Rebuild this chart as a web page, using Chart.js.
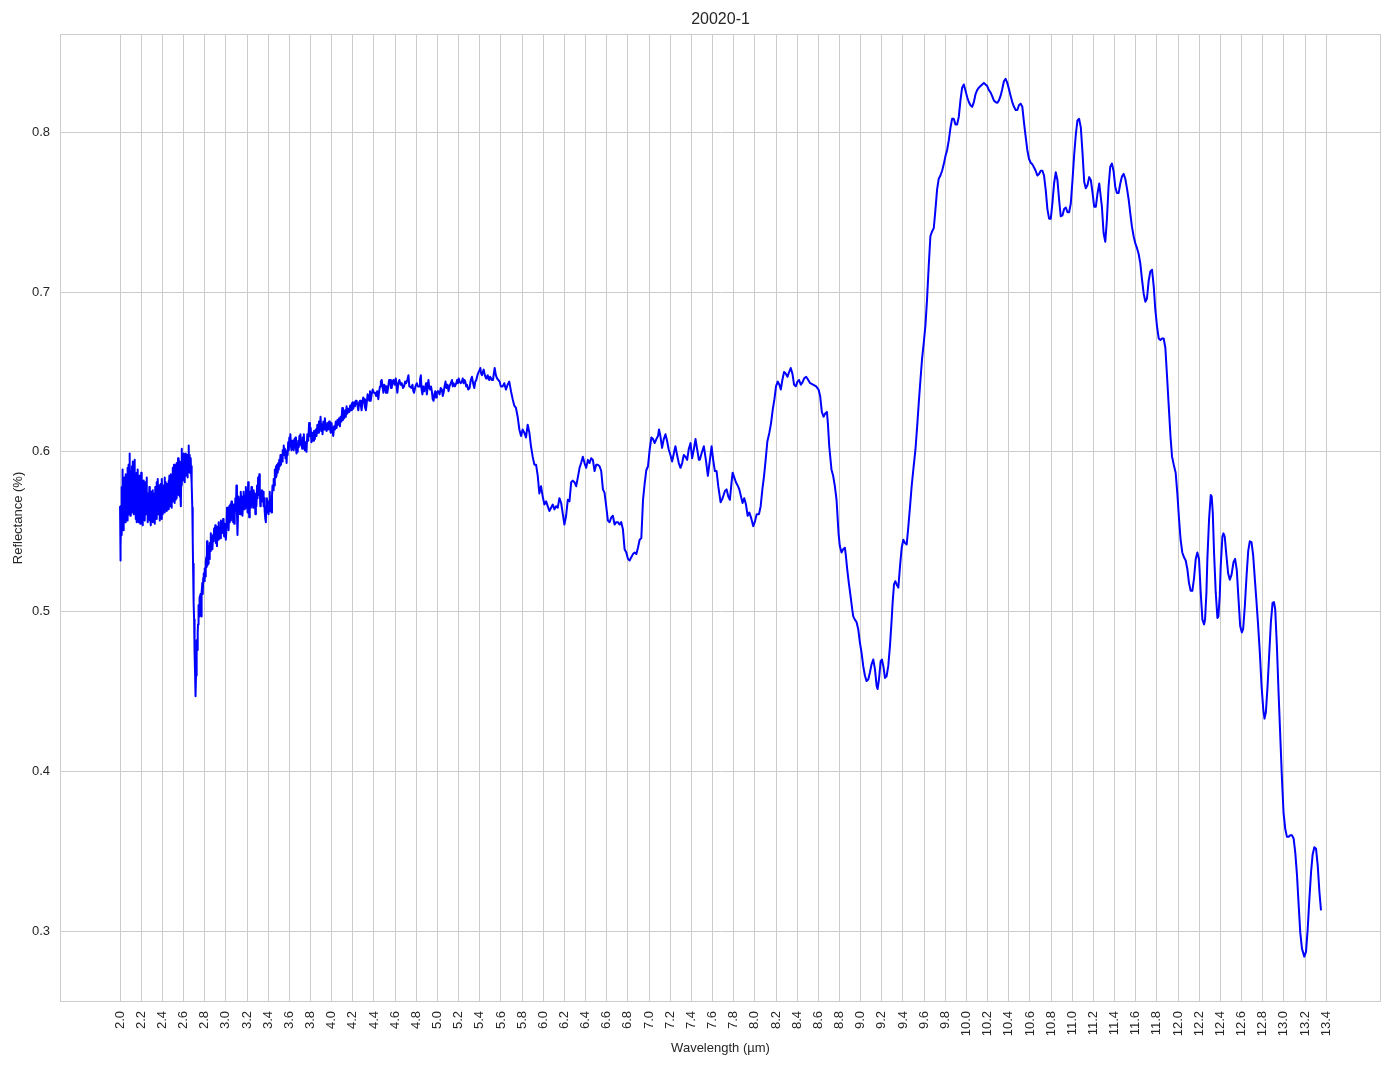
<!DOCTYPE html>
<html>
<head>
<meta charset="utf-8">
<script src="https://cdn.jsdelivr.net/npm/chart.js@4.4.1/dist/chart.umd.min.js"></script>
<style>
html,body{margin:0;padding:0;background:#ffffff;}
canvas{display:block;}
</style>
</head>
<body>
<canvas id="c" width="1394" height="1069"></canvas>
<script>
const chartTitle = '20020-1';
const xAxisTitle = 'Wavelength (µm)';
const yAxisTitle = 'Reflectance (%)';

const xTicks = [2.0,2.2,2.4,2.6,2.8,3.0,3.2,3.4,3.6,3.8,4.0,4.2,4.4,4.6,4.8,5.0,5.2,5.4,5.6,5.8,
  6.0,6.2,6.4,6.6,6.8,7.0,7.2,7.4,7.6,7.8,8.0,8.2,8.4,8.6,8.8,9.0,9.2,9.4,9.6,9.8,
  10.0,10.2,10.4,10.6,10.8,11.0,11.2,11.4,11.6,11.8,12.0,12.2,12.4,12.6,12.8,13.0,13.2,13.4];
const yTicks = [0.3,0.4,0.5,0.6,0.7,0.8];

const wavelength = [
2.000,2.002,2.004,2.006,2.008,2.011,2.014,2.017,2.019,2.021,
2.024,2.027,2.030,2.033,2.036,2.040,2.043,2.046,2.049,2.052,
2.055,2.058,2.061,2.064,2.067,2.070,2.073,2.076,2.079,2.082,
2.085,2.088,2.091,2.094,2.097,2.100,2.103,2.106,2.110,2.113,
2.116,2.119,2.122,2.125,2.128,2.131,2.134,2.137,2.140,2.143,
2.147,2.150,2.153,2.156,2.159,2.162,2.165,2.168,2.171,2.175,
2.178,2.181,2.184,2.187,2.191,2.194,2.197,2.200,2.203,2.207,
2.210,2.213,2.216,2.219,2.222,2.226,2.229,2.232,2.235,2.239,
2.242,2.245,2.248,2.251,2.254,2.257,2.260,2.264,2.267,2.270,
2.273,2.277,2.280,2.283,2.286,2.289,2.292,2.295,2.298,2.302,
2.305,2.308,2.311,2.314,2.317,2.320,2.323,2.327,2.330,2.333,
2.336,2.339,2.342,2.345,2.348,2.352,2.355,2.358,2.361,2.364,
2.367,2.371,2.374,2.377,2.380,2.384,2.387,2.390,2.393,2.396,
2.399,2.402,2.406,2.409,2.412,2.415,2.418,2.421,2.424,2.428,
2.431,2.434,2.437,2.440,2.443,2.447,2.450,2.453,2.456,2.459,
2.462,2.466,2.469,2.472,2.475,2.478,2.481,2.484,2.487,2.490,
2.494,2.497,2.500,2.503,2.506,2.510,2.513,2.516,2.519,2.522,
2.526,2.529,2.532,2.535,2.538,2.541,2.545,2.548,2.551,2.554,
2.557,2.560,2.563,2.566,2.569,2.573,2.576,2.579,2.582,2.585,
2.588,2.591,2.594,2.597,2.601,2.604,2.607,2.610,2.613,2.616,
2.620,2.623,2.626,2.629,2.633,2.636,2.639,2.642,2.645,2.649,
2.652,2.655,2.658,2.661,2.664,2.668,2.671,2.674,2.677,2.680,
2.683,2.687,2.690,2.694,2.697,2.700,2.703,2.706,2.709,2.712,
2.715,2.718,2.721,2.724,2.727,2.730,2.734,2.737,2.740,2.744,
2.747,2.750,2.753,2.756,2.759,2.762,2.766,2.769,2.773,2.778,
2.782,2.786,2.791,2.795,2.800,2.805,2.810,2.815,2.819,2.822,
2.825,2.829,2.832,2.837,2.842,2.848,2.853,2.858,2.863,2.868,
2.873,2.879,2.884,2.889,2.895,2.900,2.905,2.911,2.916,2.921,
2.926,2.932,2.937,2.942,2.947,2.953,2.958,2.963,2.968,2.974,
2.979,2.984,2.990,2.995,3.000,3.005,3.011,3.016,3.021,3.026,
3.032,3.037,3.042,3.048,3.053,3.058,3.063,3.069,3.074,3.079,
3.084,3.090,3.095,3.100,3.105,3.110,3.115,3.120,3.125,3.131,
3.136,3.141,3.147,3.152,3.157,3.163,3.168,3.173,3.179,3.184,
3.189,3.195,3.200,3.205,3.211,3.216,3.221,3.226,3.231,3.237,
3.242,3.247,3.252,3.258,3.263,3.268,3.274,3.279,3.284,3.289,
3.295,3.300,3.305,3.310,3.316,3.321,3.326,3.330,3.336,3.341,
3.346,3.352,3.357,3.362,3.367,3.373,3.378,3.383,3.388,3.394,
3.399,3.404,3.409,3.415,3.420,3.426,3.431,3.436,3.441,3.447,
3.452,3.458,3.463,3.468,3.474,3.479,3.484,3.490,3.495,3.500,
3.505,3.510,3.516,3.521,3.526,3.531,3.537,3.542,3.547,3.552,
3.558,3.563,3.568,3.574,3.579,3.584,3.589,3.595,3.600,3.605,
3.610,3.616,3.621,3.626,3.632,3.637,3.642,3.648,3.653,3.658,
3.663,3.668,3.674,3.679,3.684,3.690,3.695,3.700,3.705,3.711,
3.716,3.721,3.727,3.732,3.737,3.742,3.747,3.752,3.758,3.762,
3.770,3.779,3.787,3.795,3.802,3.809,3.817,3.825,3.833,3.841,
3.849,3.857,3.865,3.873,3.880,3.888,3.895,3.902,3.908,3.914,
3.921,3.928,3.936,3.944,3.952,3.960,3.968,3.976,3.983,3.991,
3.999,4.007,4.015,4.023,4.031,4.039,4.047,4.055,4.062,4.070,
4.078,4.085,4.093,4.100,4.107,4.113,4.119,4.127,4.134,4.141,
4.149,4.158,4.167,4.175,4.183,4.190,4.198,4.205,4.213,4.220,
4.228,4.236,4.244,4.252,4.260,4.268,4.276,4.283,4.291,4.298,
4.306,4.315,4.324,4.332,4.340,4.347,4.355,4.362,4.369,4.378,
4.388,4.399,4.410,4.420,4.430,4.441,4.449,4.457,4.465,4.473,
4.481,4.489,4.497,4.505,4.513,4.520,4.527,4.535,4.543,4.552,
4.560,4.568,4.576,4.584,4.595,4.606,4.614,4.621,4.630,4.640,
4.651,4.663,4.674,4.685,4.694,4.704,4.715,4.726,4.734,4.742,
4.753,4.764,4.772,4.779,4.792,4.805,4.816,4.827,4.835,4.843,
4.850,4.858,4.866,4.876,4.884,4.892,4.900,4.908,4.915,4.923,
4.931,4.939,4.947,4.955,4.963,4.971,4.979,4.987,4.994,5.005,
5.020,5.031,5.042,5.050,5.058,5.067,5.076,5.085,5.095,5.105,
5.114,5.126,5.137,5.145,5.152,5.165,5.178,5.186,5.193,5.201,
5.209,5.220,5.231,5.239,5.247,5.255,5.263,5.271,5.279,5.291,
5.304,5.315,5.326,5.337,5.348,5.358,5.367,5.378,5.389,5.397,
5.405,5.413,5.421,5.429,5.437,5.448,5.459,5.467,5.475,5.483,
5.490,5.498,5.506,5.515,5.525,5.533,5.541,5.552,5.563,5.575,
5.588,5.595,5.601,5.616,5.632,5.647,5.663,5.679,5.695,5.711,
5.726,5.742,5.758,5.774,5.790,5.805,5.821,5.837,5.853,5.869,
5.884,5.900,5.916,5.932,5.948,5.963,5.979,5.995,6.011,6.027,
6.042,6.058,6.074,6.090,6.106,6.121,6.137,6.153,6.169,6.185,
6.200,6.216,6.232,6.248,6.264,6.279,6.295,6.311,6.327,6.343,
6.358,6.374,6.390,6.406,6.422,6.437,6.453,6.469,6.485,6.500,
6.516,6.532,6.548,6.564,6.579,6.595,6.611,6.627,6.643,6.658,
6.674,6.690,6.706,6.722,6.737,6.753,6.769,6.785,6.801,6.816,
6.832,6.848,6.864,6.880,6.895,6.911,6.927,6.943,6.959,6.974,
6.990,7.006,7.022,7.038,7.053,7.069,7.085,7.094,7.107,7.123,
7.139,7.155,7.170,7.186,7.202,7.218,7.234,7.249,7.265,7.281,
7.297,7.313,7.328,7.344,7.360,7.376,7.392,7.407,7.423,7.439,
7.455,7.471,7.480,7.496,7.518,7.537,7.556,7.575,7.591,7.606,
7.622,7.638,7.654,7.676,7.695,7.717,7.733,7.749,7.764,7.780,
7.790,7.805,7.821,7.837,7.853,7.869,7.884,7.900,7.916,7.932,
7.948,7.963,7.985,8.001,8.017,8.039,8.055,8.071,8.087,8.102,
8.118,8.137,8.153,8.169,8.185,8.200,8.216,8.232,8.245,8.260,
8.276,8.292,8.308,8.324,8.339,8.355,8.371,8.387,8.403,8.418,
8.434,8.450,8.466,8.485,8.500,8.523,8.554,8.579,8.602,8.617,
8.633,8.649,8.665,8.681,8.690,8.703,8.724,8.740,8.756,8.772,
8.781,8.791,8.803,8.819,8.835,8.851,8.860,8.873,8.888,8.904,
8.920,8.930,8.945,8.961,8.977,8.993,9.009,9.024,9.040,9.056,
9.072,9.088,9.103,9.119,9.135,9.151,9.160,9.173,9.189,9.201,
9.214,9.230,9.245,9.261,9.277,9.293,9.302,9.315,9.328,9.340,
9.356,9.372,9.388,9.403,9.419,9.435,9.451,9.467,9.482,9.498,
9.518,9.534,9.549,9.565,9.580,9.596,9.612,9.627,9.643,9.659,
9.675,9.691,9.706,9.722,9.738,9.754,9.770,9.785,9.801,9.817,
9.833,9.849,9.864,9.880,9.896,9.912,9.928,9.943,9.959,9.975,
9.991,10.007,10.022,10.038,10.054,10.070,10.086,10.101,10.117,10.133,
10.149,10.165,10.180,10.196,10.212,10.228,10.244,10.259,10.275,10.291,
10.307,10.323,10.338,10.354,10.370,10.386,10.402,10.417,10.433,10.449,
10.465,10.481,10.496,10.512,10.528,10.544,10.560,10.575,10.591,10.607,
10.623,10.639,10.654,10.670,10.686,10.702,10.718,10.733,10.749,10.765,
10.781,10.797,10.812,10.828,10.844,10.860,10.876,10.891,10.907,10.923,
10.939,10.955,10.970,10.986,11.002,11.018,11.034,11.049,11.065,11.081,
11.097,11.113,11.128,11.144,11.160,11.176,11.192,11.207,11.223,11.239,
11.255,11.280,11.296,11.312,11.327,11.343,11.359,11.375,11.391,11.406,
11.422,11.438,11.454,11.470,11.485,11.501,11.517,11.533,11.549,11.564,
11.580,11.596,11.612,11.627,11.643,11.659,11.675,11.691,11.706,11.722,
11.738,11.754,11.770,11.785,11.801,11.817,11.833,11.849,11.864,11.880,
11.896,11.912,11.928,11.943,11.959,11.977,11.993,12.009,12.024,12.040,
12.056,12.072,12.088,12.103,12.119,12.135,12.151,12.167,12.182,12.198,
12.214,12.230,12.246,12.255,12.268,12.277,12.293,12.309,12.318,12.328,
12.340,12.356,12.372,12.381,12.394,12.403,12.419,12.429,12.441,12.457,
12.473,12.489,12.505,12.524,12.539,12.555,12.571,12.587,12.603,12.615,
12.631,12.647,12.663,12.678,12.694,12.710,12.726,12.742,12.757,12.773,
12.789,12.805,12.817,12.830,12.846,12.862,12.877,12.893,12.906,12.918,
12.934,12.950,12.966,12.982,12.997,13.013,13.029,13.045,13.061,13.076,
13.092,13.108,13.124,13.140,13.155,13.171,13.193,13.209,13.225,13.241,
13.257,13.272,13.288,13.304,13.320,13.336,13.351
];

const reflectance = [
0.566,0.545,0.532,0.556,0.541,0.562,0.548,0.578,0.552,0.589,
0.560,0.581,0.551,0.575,0.558,0.584,0.563,0.579,0.556,0.586,
0.562,0.577,0.558,0.583,0.560,0.590,0.557,0.574,0.566,0.592,
0.561,0.599,0.570,0.585,0.560,0.588,0.569,0.582,0.562,0.591,
0.567,0.594,0.571,0.586,0.561,0.584,0.565,0.595,0.570,0.581,
0.558,0.576,0.562,0.587,0.556,0.580,0.566,0.589,0.560,0.577,
0.556,0.585,0.563,0.574,0.555,0.580,0.562,0.587,0.566,0.584,
0.558,0.575,0.554,0.578,0.566,0.582,0.559,0.574,0.557,0.581,
0.563,0.576,0.561,0.584,0.565,0.572,0.556,0.574,0.558,0.571,
0.562,0.578,0.557,0.574,0.561,0.569,0.554,0.575,0.558,0.571,
0.560,0.576,0.556,0.568,0.558,0.574,0.561,0.570,0.555,0.578,
0.560,0.572,0.563,0.581,0.558,0.574,0.565,0.583,0.561,0.577,
0.564,0.579,0.557,0.572,0.566,0.580,0.562,0.575,0.558,0.583,
0.564,0.574,0.561,0.579,0.563,0.576,0.568,0.584,0.562,0.578,
0.565,0.581,0.566,0.576,0.563,0.580,0.566,0.578,0.564,0.582,
0.570,0.585,0.568,0.579,0.566,0.586,0.571,0.583,0.565,0.581,
0.569,0.590,0.572,0.584,0.570,0.592,0.568,0.583,0.573,0.589,
0.570,0.586,0.575,0.593,0.571,0.584,0.576,0.596,0.573,0.588,
0.578,0.594,0.572,0.590,0.576,0.592,0.566,0.586,0.602,0.579,
0.597,0.582,0.594,0.584,0.599,0.586,0.596,0.581,0.593,0.585,
0.599,0.589,0.596,0.586,0.592,0.584,0.598,0.588,0.595,0.604,
0.590,0.598,0.587,0.594,0.592,0.596,0.588,0.591,0.585,0.580,
0.565,0.545,0.530,0.515,0.505,0.495,0.485,0.474,0.462,0.455,
0.447,0.460,0.476,0.474,0.482,0.476,0.487,0.492,0.498,0.504,
0.503,0.509,0.497,0.510,0.511,0.503,0.507,0.497,0.512,0.518,
0.511,0.521,0.524,0.519,0.527,0.522,0.531,0.534,0.528,0.544,
0.529,0.536,0.530,0.541,0.533,0.543,0.538,0.549,0.541,0.546,
0.539,0.548,0.544,0.552,0.546,0.554,0.543,0.549,0.541,0.553,
0.545,0.556,0.548,0.552,0.546,0.557,0.549,0.556,0.550,0.558,
0.552,0.547,0.555,0.549,0.545,0.551,0.565,0.554,0.562,0.551,
0.566,0.556,0.567,0.557,0.569,0.559,0.566,0.556,0.567,0.555,
0.560,0.571,0.563,0.579,0.562,0.548,0.561,0.572,0.563,0.570,
0.561,0.575,0.566,0.572,0.560,0.568,0.575,0.564,0.572,0.565,
0.578,0.568,0.574,0.562,0.581,0.571,0.559,0.566,0.575,0.565,
0.578,0.567,0.574,0.565,0.576,0.568,0.574,0.561,0.570,0.566,
0.579,0.571,0.584,0.573,0.586,0.577,0.566,0.573,0.569,0.576,
0.570,0.575,0.566,0.571,0.563,0.558,0.556,0.566,0.571,0.562,
0.569,0.561,0.568,0.575,0.563,0.570,0.562,0.572,0.579,0.576,
0.583,0.579,0.589,0.584,0.591,0.585,0.592,0.587,0.593,0.589,
0.595,0.591,0.598,0.592,0.597,0.594,0.601,0.599,0.604,0.598,
0.602,0.596,0.600,0.593,0.601,0.598,0.606,0.601,0.609,0.604,
0.611,0.603,0.601,0.607,0.602,0.606,0.601,0.608,0.604,0.609,
0.602,0.599,0.605,0.600,0.607,0.603,0.610,0.605,0.611,0.604,
0.607,0.602,0.609,0.606,0.611,0.604,0.601,0.606,0.603,0.600,
0.611,0.607,0.618,0.610,0.615,0.606,0.612,0.607,0.613,0.608,
0.614,0.610,0.617,0.612,0.619,0.614,0.622,0.613,0.617,0.611,
0.619,0.614,0.621,0.615,0.613,0.618,0.614,0.619,0.615,0.612,
0.618,0.613,0.610,0.616,0.614,0.619,0.615,0.620,0.617,0.621,
0.616,0.622,0.619,0.6275,0.620,0.624,0.621,0.626,0.622,0.6285,
0.624,0.627,0.625,0.629,0.626,0.630,0.631,0.627,0.631,0.6285,
0.632,0.632,0.629,0.626,0.631,0.632,0.629,0.626,0.631,0.634,
0.633,0.628,0.626,0.631,0.636,0.635,0.632,0.638,0.632,0.636,
0.639,0.637,0.637,0.635,0.638,0.633,0.638,0.641,0.644,0.645,
0.641,0.637,0.642,0.641,0.637,0.641,0.637,0.641,0.645,0.645,
0.640,0.640,0.644,0.645,0.642,0.646,0.641,0.637,0.643,0.645,
0.642,0.643,0.640,0.641,0.644,0.643,0.645,0.648,0.641,0.641,
0.640,0.642,0.638,0.637,0.641,0.643,0.641,0.641,0.645,0.648,
0.639,0.636,0.641,0.638,0.640,0.643,0.636,0.641,0.645,0.640,
0.639,0.641,0.638,0.633,0.632,0.636,0.638,0.634,0.637,0.638,
0.636,0.640,0.639,0.635,0.637,0.641,0.644,0.640,0.642,0.638,
0.641,0.643,0.645,0.641,0.643,0.641,0.643,0.645,0.643,0.646,
0.644,0.643,0.644,0.646,0.643,0.645,0.644,0.641,0.642,0.639,
0.640,0.645,0.647,0.643,0.640,0.644,0.645,0.648,0.650,0.651,
0.6525,0.649,0.648,0.650,0.6515,0.648,0.646,0.647,0.648,0.646,
0.645,0.647,0.647,0.645,0.645,0.649,0.6525,0.648,0.646,0.645,
0.644,0.642,0.641,0.641,0.643,0.639,0.642,0.644,0.638,0.633,
0.629,0.6275,0.622,0.614,0.610,0.614,0.612,0.609,0.617,0.612,
0.6035,0.597,0.592,0.592,0.585,0.574,0.5785,0.572,0.567,0.569,
0.566,0.563,0.565,0.567,0.564,0.566,0.565,0.571,0.568,0.561,
0.5545,0.560,0.570,0.569,0.581,0.582,0.581,0.5785,0.584,0.590,
0.593,0.597,0.593,0.590,0.595,0.593,0.596,0.595,0.588,0.592,
0.592,0.591,0.588,0.5765,0.5745,0.566,0.557,0.556,0.559,0.560,
0.5545,0.556,0.556,0.5545,0.556,0.5515,0.539,0.537,0.533,0.532,
0.534,0.536,0.537,0.536,0.540,0.545,0.546,0.570,0.5805,0.5885,
0.591,0.6015,0.609,0.608,0.6055,0.608,0.610,0.614,0.610,0.6025,
0.608,0.611,0.607,0.6015,0.598,0.594,0.599,0.6035,0.598,0.593,
0.590,0.593,0.598,0.597,0.595,0.602,0.6055,0.596,0.6015,0.608,
0.6015,0.595,0.595,0.599,0.6035,0.595,0.585,0.595,0.6035,0.595,
0.588,0.588,0.5785,0.5685,0.571,0.5755,0.5765,0.572,0.570,0.581,
0.587,0.584,0.581,0.579,0.5765,0.572,0.568,0.571,0.567,0.560,
0.562,0.559,0.5535,0.5565,0.561,0.561,0.566,0.5765,0.585,0.595,
0.6065,0.612,0.618,0.6265,0.633,0.641,0.644,0.642,0.639,0.645,
0.650,0.649,0.647,0.650,0.6525,0.649,0.642,0.641,0.644,0.645,
0.642,0.6435,0.646,0.647,0.6455,0.643,0.642,0.641,0.639,0.635,
0.625,0.622,0.624,0.625,0.618,0.6035,0.589,0.585,0.5785,0.570,
0.560,0.549,0.541,0.537,0.539,0.540,0.535,0.5265,0.518,0.510,
0.5015,0.497,0.495,0.4935,0.489,0.4805,0.474,0.466,0.460,0.4565,
0.4575,0.462,0.467,0.470,0.464,0.4535,0.4515,0.4575,0.469,0.470,
0.466,0.4585,0.4595,0.466,0.4785,0.495,0.5055,0.517,0.519,0.517,
0.515,0.5285,0.540,0.545,0.543,0.542,0.5535,0.566,0.5785,0.589,
0.6015,0.616,0.6305,0.645,0.658,0.668,0.679,0.695,0.716,0.735,
0.738,0.740,0.751,0.764,0.771,0.773,0.776,0.780,0.785,0.789,
0.795,0.803,0.8085,0.8085,0.805,0.805,0.810,0.820,0.828,0.830,
0.826,0.822,0.819,0.817,0.816,0.819,0.824,0.8265,0.828,0.829,
0.830,0.831,0.830,0.829,0.8265,0.825,0.8225,0.820,0.819,0.8185,
0.820,0.823,0.827,0.832,0.8335,0.831,0.827,0.823,0.819,0.816,
0.814,0.814,0.817,0.818,0.816,0.806,0.797,0.789,0.7835,0.781,
0.780,0.778,0.776,0.773,0.774,0.776,0.776,0.773,0.764,0.752,
0.746,0.746,0.7555,0.768,0.775,0.770,0.7575,0.7475,0.748,0.752,
0.753,0.750,0.750,0.7555,0.770,0.786,0.799,0.8075,0.8085,0.803,
0.787,0.769,0.765,0.767,0.772,0.770,0.762,0.7535,0.7535,0.762,
0.768,0.7535,0.737,0.7315,0.745,0.766,0.7785,0.7805,0.7755,0.766,
0.762,0.762,0.768,0.7725,0.774,0.771,0.765,0.758,0.749,0.741,
0.735,0.7305,0.7275,0.724,0.718,0.708,0.699,0.694,0.696,0.707,
0.713,0.714,0.7035,0.689,0.6785,0.671,0.670,0.671,0.671,0.665,
0.647,0.6285,0.610,0.597,0.592,0.587,0.574,0.558,0.545,0.537,
0.534,0.532,0.5265,0.518,0.513,0.513,0.521,0.533,0.537,0.533,
0.512,0.495,0.492,0.495,0.512,0.533,0.558,0.573,0.572,0.562,
0.537,0.512,0.496,0.497,0.510,0.5285,0.547,0.549,0.547,0.535,
0.524,0.520,0.523,0.531,0.533,0.526,0.508,0.491,0.487,0.489,
0.5035,0.522,0.538,0.544,0.5435,0.535,0.520,0.5055,0.491,0.474,
0.4535,0.439,0.433,0.437,0.4535,0.474,0.493,0.5055,0.506,0.5015,
0.4785,0.449,0.422,0.395,0.374,0.364,0.359,0.359,0.360,0.360,
0.358,0.349,0.335,0.316,0.299,0.289,0.284,0.287,0.301,0.320,
0.337,0.348,0.3525,0.3515,0.341,0.3245,0.313
];

const xMin = 1.4325, xMax = 13.918;
const yMin = 0.2556, yMax = 0.8616;

const FONT = '"Liberation Sans", Arial, Helvetica, sans-serif';
const TEXT = '#262626';
const GRID = '#cccccc';

const points = wavelength.map((w, i) => ({x: w, y: reflectance[i]}));

const framePlugin = {
  id: 'frame',
  beforeDatasetsDraw(chart) {
    const {ctx, chartArea: a} = chart;
    ctx.save();
    ctx.strokeStyle = GRID;
    ctx.lineWidth = 1;
    ctx.strokeRect(Math.round(a.left) + 0.5, Math.round(a.top) + 0.5,
                   Math.round(a.right - a.left) - 1, Math.round(a.bottom - a.top) - 1);
    ctx.restore();
  }
};
const titlePlugin = {
  id: 'topTitle',
  afterDraw(chart) {
    const {ctx, chartArea: a} = chart;
    ctx.save();
    ctx.font = '16px ' + FONT;
    ctx.fillStyle = TEXT;
    ctx.textAlign = 'center';
    ctx.textBaseline = 'middle';
    ctx.fillText(chartTitle, (a.left + a.right) / 2, 20);
    ctx.restore();
  }
};

new Chart(document.getElementById('c'), {
  type: 'line',
  data: {
    datasets: [{
      data: points,
      borderColor: '#0000ff',
      borderWidth: 2,
      borderJoinStyle: 'round',
      borderCapStyle: 'butt',
      pointRadius: 0,
      pointHoverRadius: 0,
      fill: false,
      tension: 0
    }]
  },
  options: {
    responsive: false,
    animation: false,
    devicePixelRatio: 1,
    layout: {padding: {top: 34, right: 13, left: 0, bottom: 0}},
    plugins: {legend: {display: false}, title: {display: false}, tooltip: {enabled: false}},
    scales: {
      x: {
        type: 'linear', min: xMin, max: xMax,
        afterBuildTicks: s => { s.ticks = xTicks.map(v => ({value: v})); },
        afterFit: s => { s.height = 67; },
        grid: {color: GRID, lineWidth: 1, drawTicks: false},
        border: {display: false},
        ticks: {autoSkip: false, minRotation: 90, maxRotation: 90, padding: 9, color: TEXT,
                font: {family: FONT, size: 13}, callback: v => Number(v).toFixed(1)},
        title: {display: true, text: xAxisTitle, color: TEXT, font: {family: FONT, size: 13},
                padding: {top: 0, bottom: 13}}
      },
      y: {
        type: 'linear', min: yMin, max: yMax,
        afterBuildTicks: s => { s.ticks = yTicks.map(v => ({value: v})); },
        afterFit: s => { s.width = 60; },
        grid: {color: GRID, lineWidth: 1, drawTicks: false},
        border: {display: false},
        ticks: {padding: 10, color: TEXT, font: {family: FONT, size: 13},
                callback: v => Number(v).toFixed(1)},
        title: {display: true, text: yAxisTitle, color: TEXT, font: {family: FONT, size: 13},
                padding: {top: 11, bottom: 0}}
      }
    }
  },
  plugins: [framePlugin, titlePlugin]
});
</script>
</body>
</html>
